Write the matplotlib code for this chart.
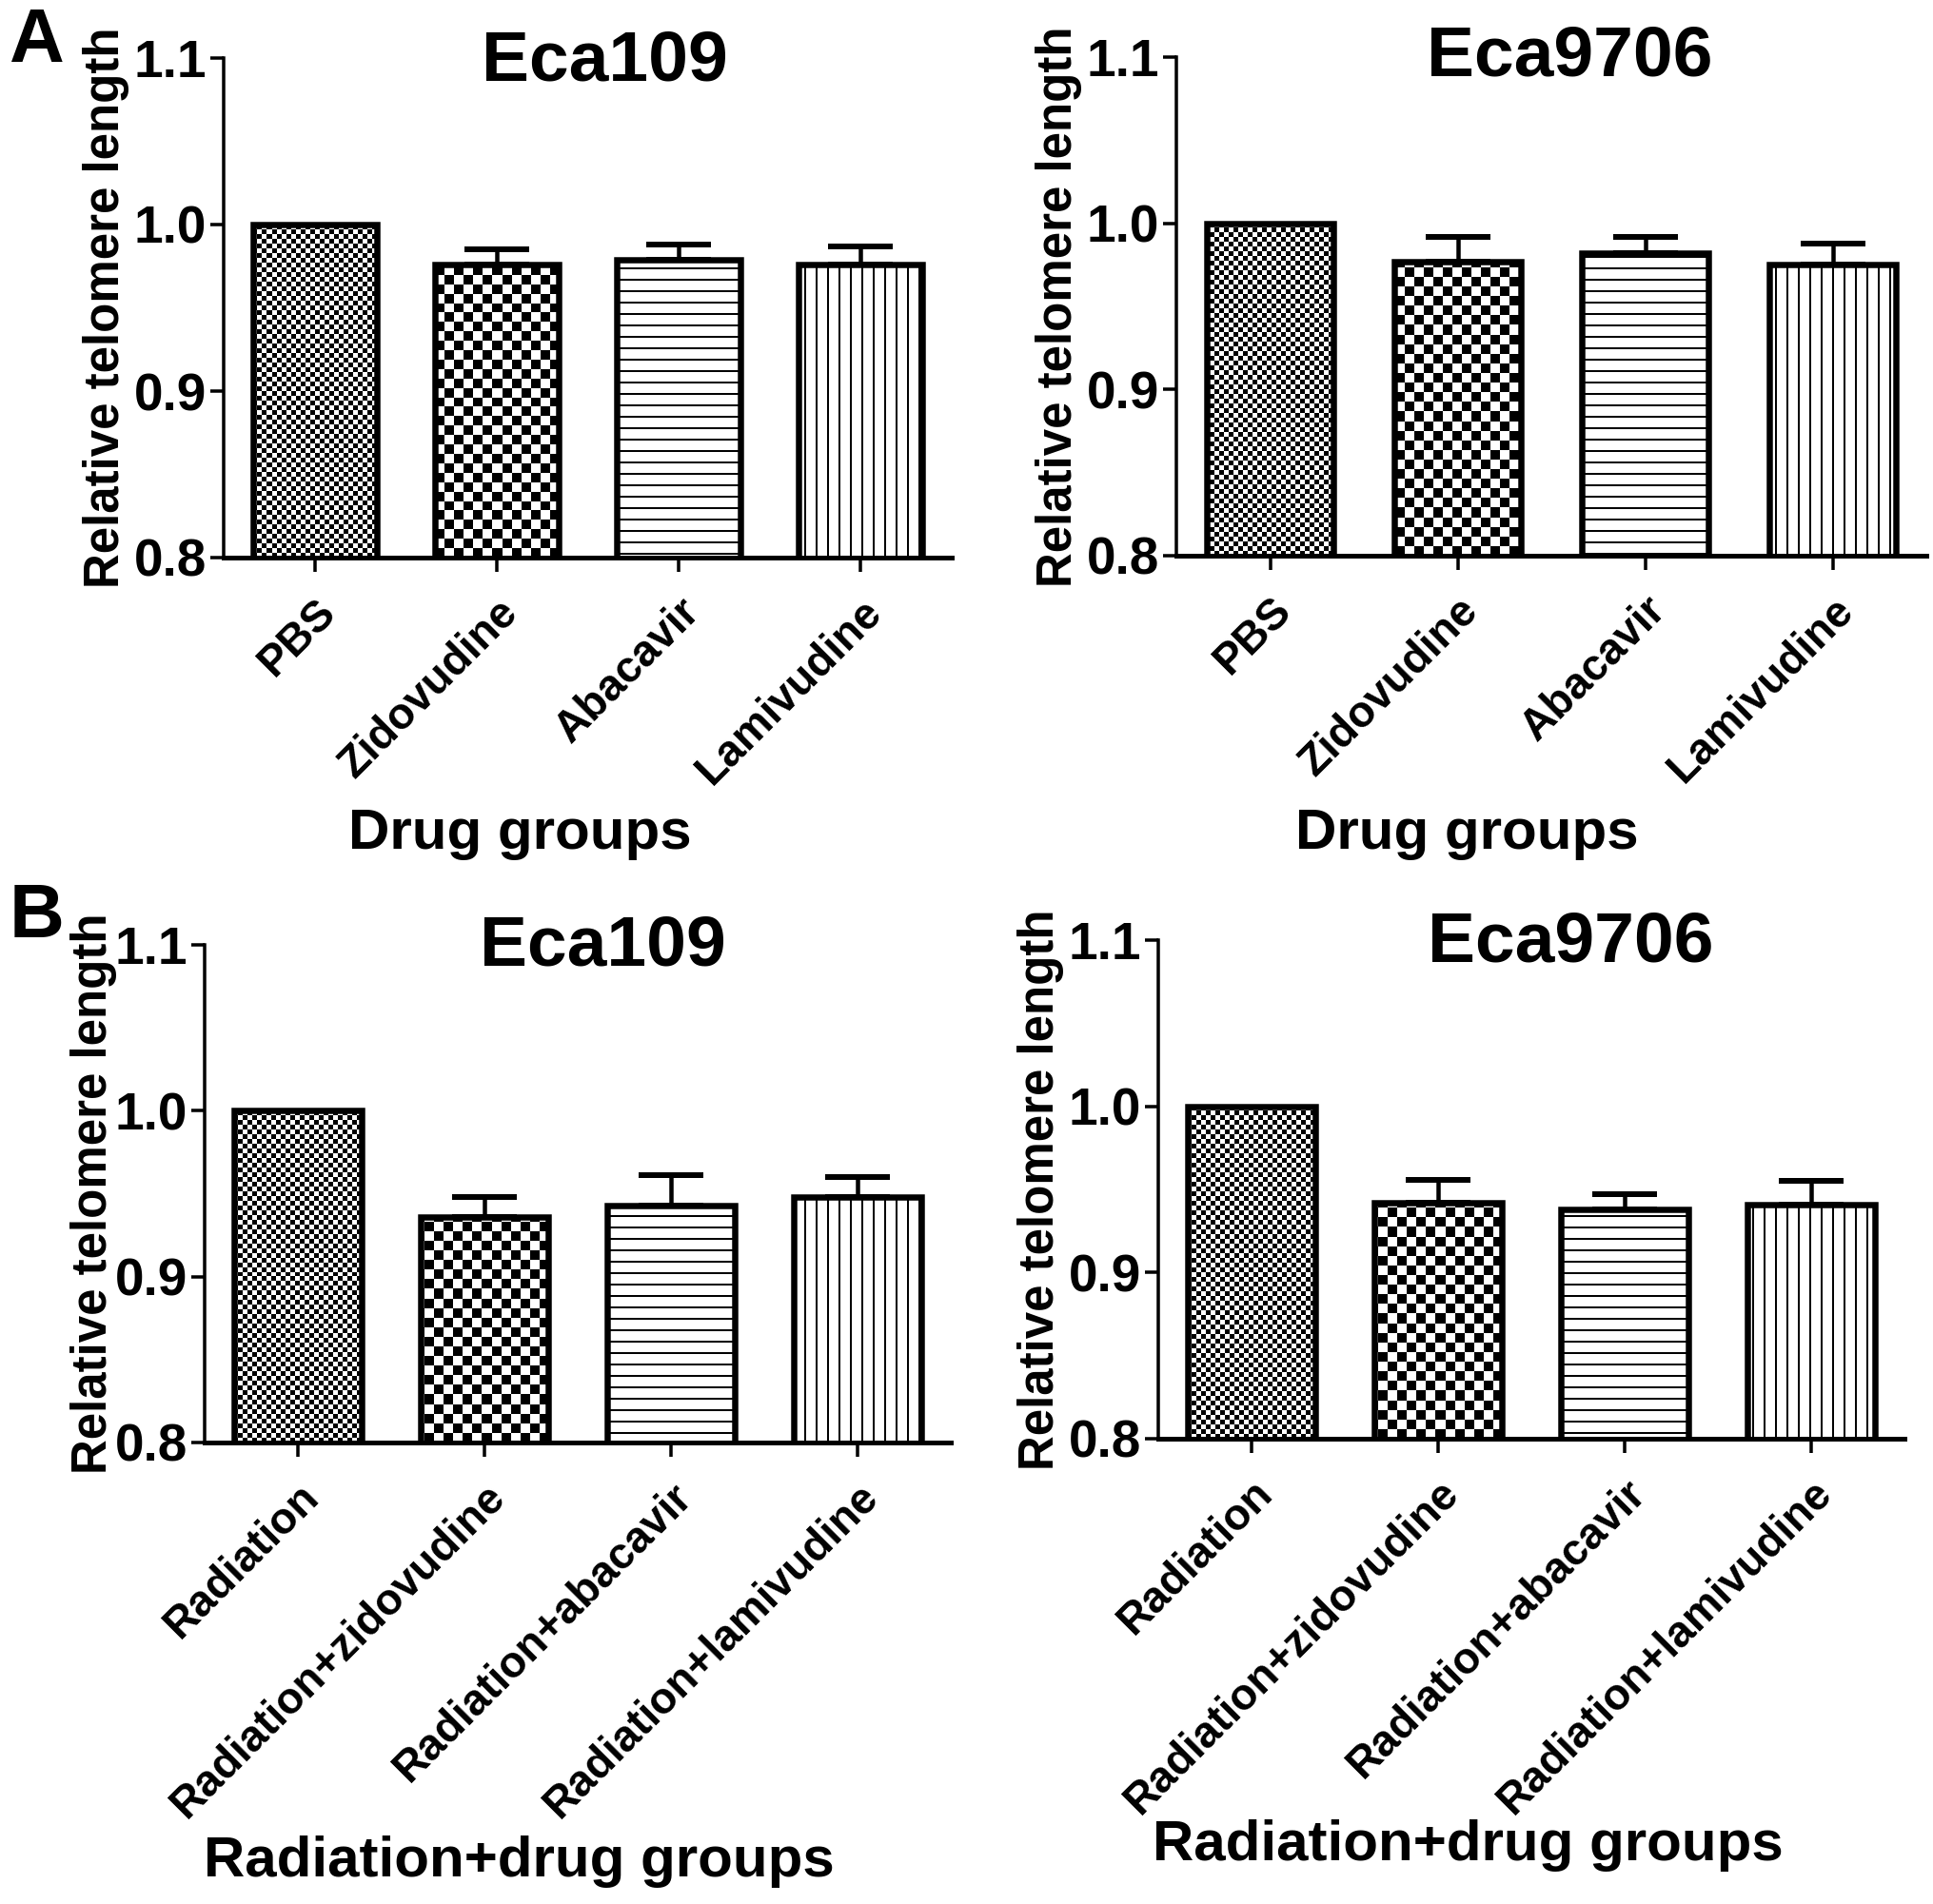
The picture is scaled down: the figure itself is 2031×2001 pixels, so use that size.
import numpy as np
import matplotlib
matplotlib.use('Agg')
import matplotlib.pyplot as plt
from matplotlib.ticker import FormatStrFormatter

plt.rcParams['font.family'] = ['Liberation Sans', 'DejaVu Sans']
plt.rcParams['font.weight'] = 'bold'
plt.rcParams['axes.labelweight'] = 'bold'
plt.rcParams['hatch.linewidth'] = 2.0

# data
drug_groups = ['PBS', 'Zidovudine', 'Abacavir', 'Lamivudine']
rad_groups = ['Radiation', 'Radiation+zidovudine', 'Radiation+abacavir',
              'Radiation+lamivudine']

eca109_drug = [1.000, 0.976, 0.979, 0.976]
eca109_drug_err = [0.0, 0.009, 0.009, 0.011]
eca9706_drug = [1.000, 0.977, 0.982, 0.975]
eca9706_drug_err = [0.0, 0.015, 0.010, 0.013]
eca109_rad = [1.000, 0.936, 0.943, 0.948]
eca109_rad_err = [0.0, 0.012, 0.018, 0.012]
eca9706_rad = [1.000, 0.942, 0.938, 0.941]
eca9706_rad_err = [0.0, 0.014, 0.009, 0.014]

W, H = 2031, 2001
DPI = 72
fig = plt.figure(figsize=(W / DPI, H / DPI), dpi=DPI)


def px_rect(x0, x1, y0, y1):
    # pixel box measured from the top-left corner -> figure fraction
    return [x0 / W, 1 - y1 / H, (x1 - x0) / W, (y1 - y0) / H]


def checker(ax, patch, cell):
    bb = ax.get_position()
    nx = int(round(bb.width * W / cell))
    ny = int(round(bb.height * H / cell))
    yy, xx = np.indices((ny, nx))
    tex = ((xx + yy) % 2).astype(float)
    im = ax.imshow(tex, cmap='gray', vmin=0, vmax=1, extent=(0, 1, 0, 1),
                   transform=ax.transAxes, interpolation='nearest',
                   aspect='auto', zorder=2.5)
    im.set_clip_path(patch)


panels = [
    dict(rect=(235, 1000, 61, 586), title='Eca109', groups=drug_groups,
         vals=eca109_drug, err=eca109_drug_err, xlabel='Drug groups',
         title_xy=(0.523, 0.956), ylab_x=-0.161, xlab_xy=(0.407, -0.583)),
    dict(rect=(1236, 2024, 60, 584), title='Eca9706', groups=drug_groups,
         vals=eca9706_drug, err=eca9706_drug_err, xlabel='Drug groups',
         title_xy=(0.524, 0.962), ylab_x=-0.157, xlab_xy=(0.388, -0.588)),
    dict(rect=(215, 999, 993, 1516), title='Eca109', groups=rad_groups,
         vals=eca109_rad, err=eca109_rad_err, xlabel='Radiation+drug groups',
         title_xy=(0.534, 0.958), ylab_x=-0.148, xlab_xy=(0.421, -0.871)),
    dict(rect=(1217, 2001, 988, 1512), title='Eca9706', groups=rad_groups,
         vals=eca9706_rad, err=eca9706_rad_err, xlabel='Radiation+drug groups',
         title_xy=(0.552, 0.958), ylab_x=-0.158, xlab_xy=(0.415, -0.845)),
]

hatches = [None, None, '-', '|']
width = 0.68

for p in panels:
    ax = fig.add_axes(px_rect(*p['rect']))
    x = np.arange(len(p['groups']))
    vals = np.array(p['vals'])
    err = np.array(p['err'])

    bars = ax.bar(x, vals, width, color='white', edgecolor='none', zorder=2)
    for b, h in zip(bars, hatches):
        if h:
            b.set_hatch(h)
            b.set_edgecolor('black')
            b.set_linewidth(0)
    checker(ax, bars[0], 5)
    checker(ax, bars[1], 10)
    ax.bar(x, vals, width, fill=False, edgecolor='black', linewidth=6.5,
           zorder=3)

    m = err > 0
    ax.errorbar(x[m], vals[m], yerr=[np.zeros(m.sum()), err[m]], fmt='none',
                ecolor='black', elinewidth=4.5, capsize=34, capthick=6,
                zorder=4)

    ax.set_xlim(-0.5, 3.5)
    ax.set_ylim(0.8, 1.1)
    ax.set_yticks([0.8, 0.9, 1.0, 1.1])
    ax.yaxis.set_major_formatter(FormatStrFormatter('%.1f'))
    ax.set_xticks(x)
    ax.set_xticklabels(p['groups'], rotation=45, ha='right', va='top',
                       rotation_mode='anchor', fontsize=46)

    for s in ['top', 'right']:
        ax.spines[s].set_visible(False)
    ax.spines['left'].set_linewidth(3.5)
    ax.spines['bottom'].set_linewidth(5)
    ax.tick_params(axis='y', length=14, width=3.5, labelsize=55, pad=4)
    ax.tick_params(axis='x', length=15, width=3.5, pad=20)

    ax.set_ylabel('Relative telomere length', fontsize=51, va='center')
    ax.yaxis.set_label_coords(p['ylab_x'], 0.5)
    ax.set_xlabel(p['xlabel'], fontsize=60, va='baseline')
    ax.xaxis.set_label_coords(*p['xlab_xy'])
    ax.text(p['title_xy'][0], p['title_xy'][1], p['title'],
            transform=ax.transAxes, ha='center', va='baseline', fontsize=75)

fig.text(10 / W, 1 - 65 / H, 'A', fontsize=80, ha='left', va='baseline')
fig.text(10 / W, 1 - 985 / H, 'B', fontsize=80, ha='left', va='baseline')

fig.savefig('out.png', dpi=DPI, facecolor='white')
